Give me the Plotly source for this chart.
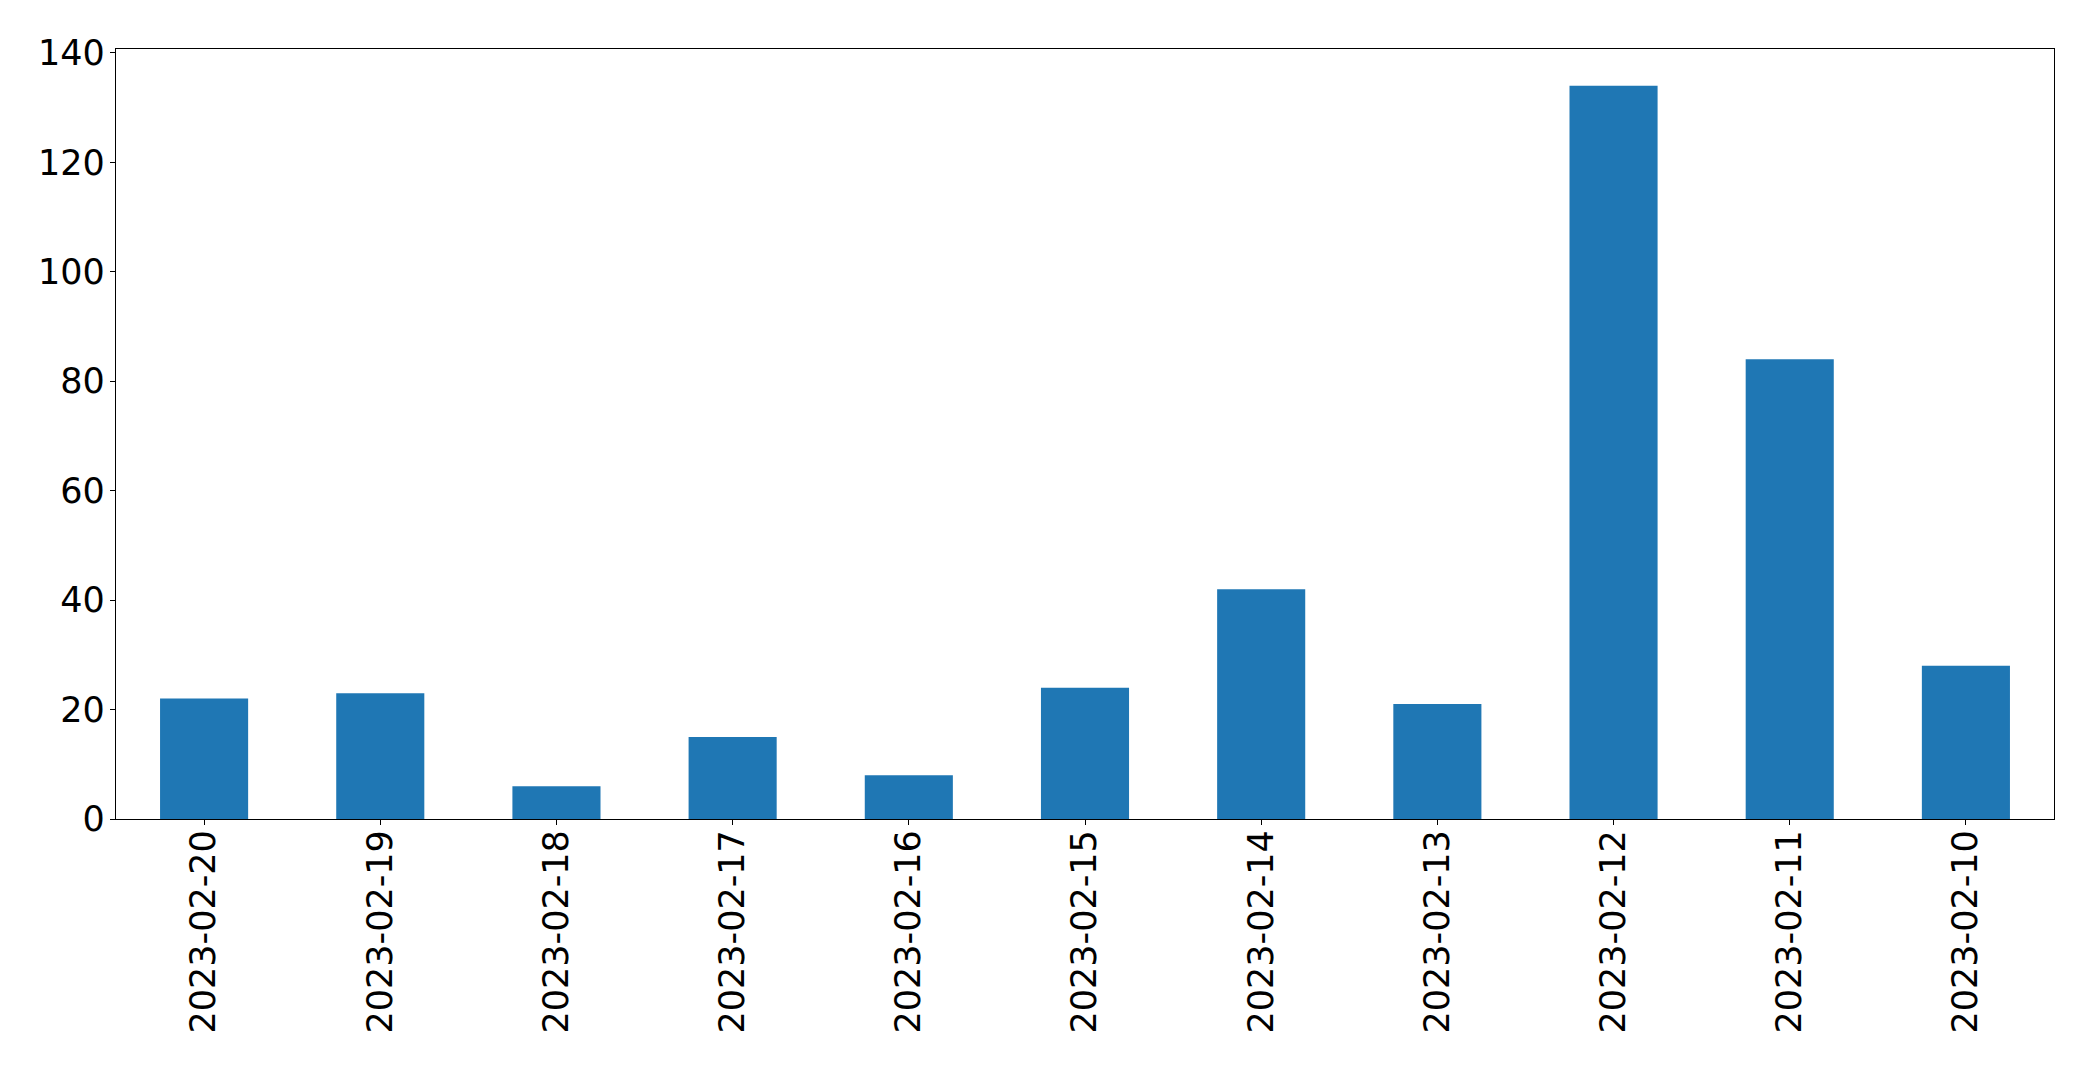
import plotly.graph_objects as go

dates = ["2023-02-20", "2023-02-19", "2023-02-18", "2023-02-17", "2023-02-16",
         "2023-02-15", "2023-02-14", "2023-02-13", "2023-02-12", "2023-02-11",
         "2023-02-10"]
counts = [22, 23, 6, 15, 8, 24, 42, 21, 134, 84, 28]
y_ticks = [0, 20, 40, 60, 80, 100, 120, 140]

fig = go.Figure(go.Bar(x=dates, y=counts, width=0.5, marker_color="#1f77b4",
                       marker_line_width=0))

font = dict(family="DejaVu Sans", size=35, color="black")
fig.update_layout(
    width=2093, height=1071,
    margin=dict(l=116, r=39, t=49, b=252, autoexpand=False),
    plot_bgcolor="white", paper_bgcolor="white",
    showlegend=False,
    font=font,
)
fig.update_xaxes(type="category", range=[-0.5, 10.5], tickangle=-90,
                 showline=True, linecolor="black", linewidth=1.3, mirror=True,
                 ticks="outside", ticklen=5, tickwidth=1.3, tickcolor="black",
                 showgrid=False, zeroline=False, tickfont=font,
                 ticklabelstandoff=-9)
fig.update_yaxes(range=[0, 140.7], tickvals=y_ticks,
                 showline=True, linecolor="black", linewidth=1.3, mirror=True,
                 ticks="outside", ticklen=5, tickwidth=1.3, tickcolor="black",
                 showgrid=False, zeroline=False, tickfont=font,
                 ticklabelstandoff=-2)

fig.write_html("out.html", config={"displayModeBar": False},
               post_script="document.body.style.margin='0';document.body.style.overflow='hidden';")
